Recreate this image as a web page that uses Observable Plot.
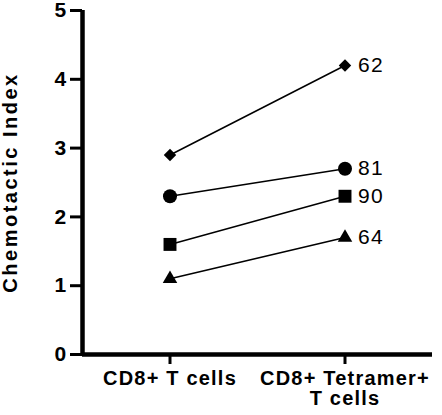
<!DOCTYPE html>
<html>
<head>
<meta charset="utf-8">
<script src="https://cdn.jsdelivr.net/npm/d3@7"></script>
<script src="https://cdn.jsdelivr.net/npm/@observablehq/plot@0.6"></script>
<style>
  html, body { margin: 0; padding: 0; background: #fff; }
</style>
</head>
<body>
<div id="chart"></div>
<script>
// Data
const categories = ["CD8+ T cells", "CD8+ Tetramer+\nT cells"];
const seriesLabels = ["62", "81", "90", "64"];
const beforeValues = [2.9, 2.3, 1.6, 1.1];
const afterValues = [4.2, 2.7, 2.3, 1.7];
const yTicks = [0, 1, 2, 3, 4, 5];
const yTitle = "Chemotactic Index";

// Styling (not data)
const symbolRange = ["diamond2", "circle", "square", "triangle"];
const symbolRadius = {"62": 5.6, "81": 7, "90": 7.3, "64": 5.4};

const rows = [];
seriesLabels.forEach((s, i) => {
  rows.push({series: s, x: 0, y: beforeValues[i]});
  rows.push({series: s, x: 1, y: afterValues[i]});
});
const endRows = rows.filter(d => d.x === 1);

const svg = Plot.plot({
  width: 442,
  height: 415,
  marginLeft: 82,
  marginRight: 10,
  marginTop: 10,
  marginBottom: 61,
  style: {fontFamily: "'Liberation Sans', Arial, Helvetica, sans-serif", letterSpacing: "1.2px", color: "black", background: "white"},
  x: {type: "linear", domain: [-0.5, 1.5]},
  y: {domain: [0, 5]},
  symbol: {domain: seriesLabels, range: symbolRange},
  r: {type: "identity"},
  marks: [
    Plot.axisY({ticks: yTicks, tickFormat: d => String(d), tickSize: 12, tickPadding: 3, strokeWidth: 3, fontSize: 21, fontWeight: "bold", label: null}),
    Plot.axisX({ticks: [0, 1], tickFormat: i => categories[i], tickSize: 10, tickPadding: 6, strokeWidth: 3, fontSize: 20, fontWeight: "bold", label: null}),
    Plot.ruleY([0], {strokeWidth: 4.5, stroke: "black"}),
    Plot.ruleX([-0.5], {strokeWidth: 4.5, stroke: "black"}),
    Plot.text([yTitle], {frameAnchor: "left", textAnchor: "middle", rotate: -90, dx: -72, fontSize: 20, fontWeight: "bold", fill: "black"}),
    Plot.line(rows, {x: "x", y: "y", z: "series", stroke: "black", strokeWidth: 1.5}),
    Plot.dot(rows, {x: "x", y: "y", symbol: "series", r: d => symbolRadius[d.series], fill: "black", stroke: "none"}),
    Plot.text(endRows, {x: "x", y: "y", text: "series", dx: 13, textAnchor: "start", fontSize: 21, fill: "black"})
  ]
});
document.getElementById("chart").appendChild(svg);
d3.select(svg).selectAll("text").filter(function() { return this.textContent === yTitle; }).style("letter-spacing", "2.5px");
</script>
</body>
</html>
